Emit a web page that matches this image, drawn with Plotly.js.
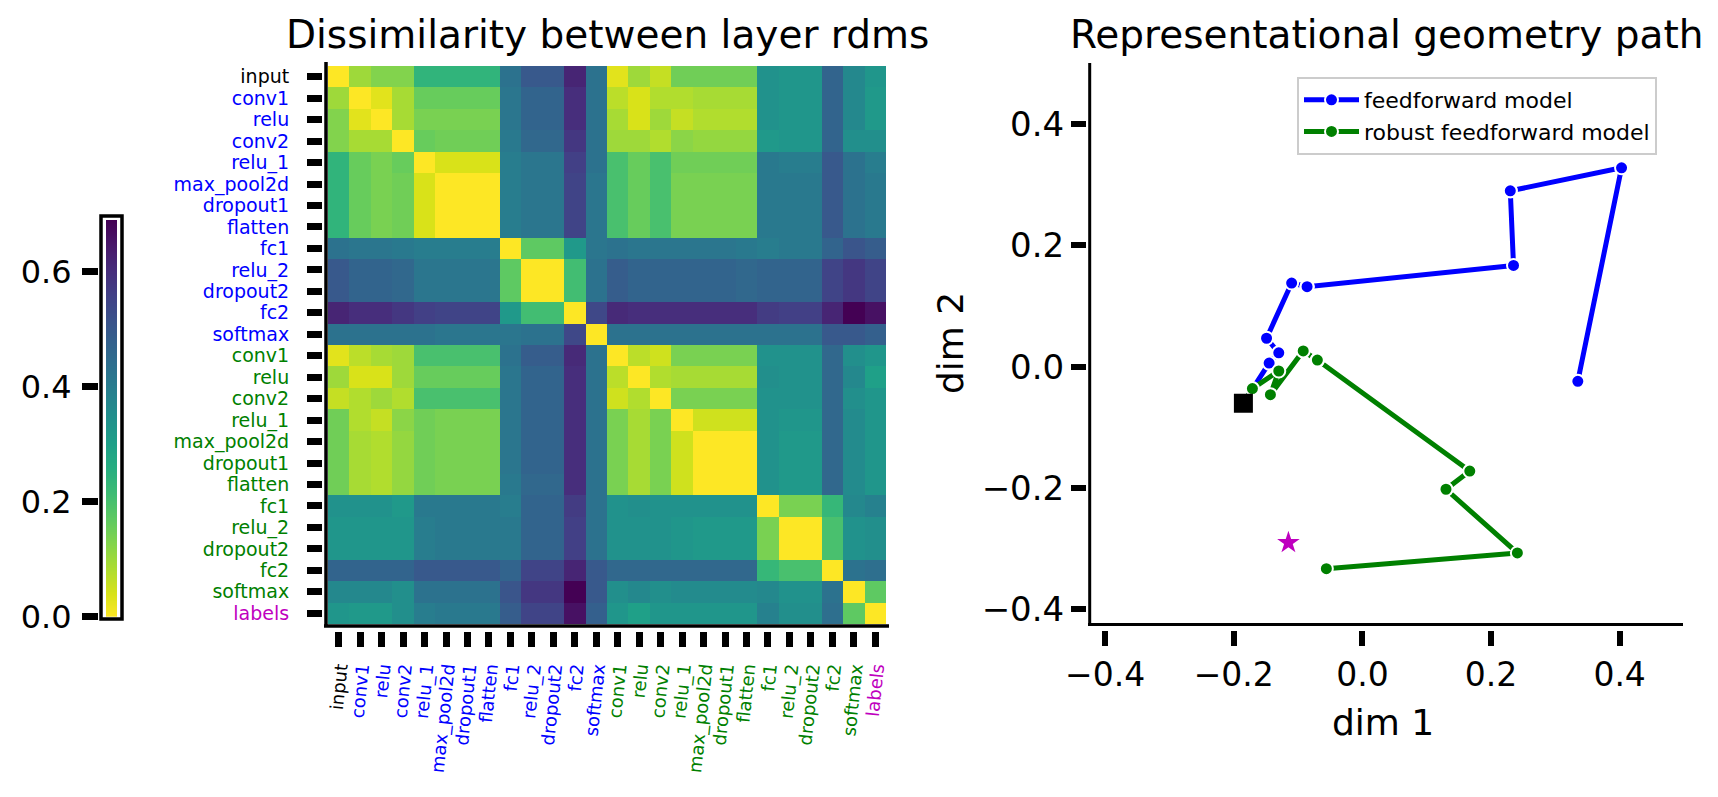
<!DOCTYPE html>
<html>
<head>
<meta charset="utf-8">
<script src="https://cdn.plot.ly/plotly-3.0.1.min.js"></script>
<style>
html,body{margin:0;padding:0;background:#ffffff;}
#chart{width:1718px;height:797px;}
</style>
</head>
<body>
<div id="chart"></div>
<script>
// ---------------- data ----------------
const rdmLabels = ['input','conv1','relu','conv2','relu_1','max_pool2d','dropout1','flatten','fc1','relu_2','dropout2','fc2','softmax',
                   'conv1','relu','conv2','relu_1','max_pool2d','dropout1','flatten','fc1','relu_2','dropout2','fc2','softmax','labels'];
const rdmGroups = ['input','ff','ff','ff','ff','ff','ff','ff','ff','ff','ff','ff','ff',
                   'robust','robust','robust','robust','robust','robust','robust','robust','robust','robust','robust','robust','labels'];

const dissim = [
 [0.00,0.10,0.13,0.13,0.24,0.24,0.24,0.24,0.43,0.50,0.50,0.62,0.43,0.03,0.10,0.06,0.15,0.15,0.15,0.15,0.34,0.33,0.33,0.47,0.37,0.33],
 [0.10,0.00,0.03,0.09,0.16,0.16,0.16,0.16,0.42,0.47,0.47,0.60,0.43,0.07,0.04,0.08,0.08,0.09,0.09,0.09,0.34,0.33,0.33,0.47,0.37,0.32],
 [0.13,0.03,0.00,0.09,0.14,0.14,0.14,0.14,0.42,0.47,0.47,0.60,0.43,0.09,0.04,0.10,0.06,0.08,0.08,0.08,0.34,0.33,0.33,0.47,0.37,0.32],
 [0.13,0.09,0.09,0.00,0.16,0.15,0.15,0.15,0.41,0.46,0.46,0.58,0.43,0.10,0.10,0.08,0.12,0.11,0.11,0.11,0.32,0.33,0.33,0.47,0.35,0.35],
 [0.24,0.16,0.14,0.16,0.00,0.04,0.04,0.04,0.40,0.42,0.42,0.56,0.43,0.20,0.16,0.20,0.15,0.15,0.15,0.15,0.41,0.40,0.40,0.50,0.43,0.40],
 [0.24,0.16,0.14,0.15,0.04,0.00,0.00,0.00,0.40,0.42,0.42,0.55,0.42,0.20,0.16,0.20,0.14,0.14,0.14,0.14,0.41,0.41,0.41,0.50,0.43,0.41],
 [0.24,0.16,0.14,0.15,0.04,0.00,0.00,0.00,0.40,0.42,0.42,0.55,0.42,0.20,0.16,0.20,0.14,0.14,0.14,0.14,0.41,0.41,0.41,0.50,0.43,0.41],
 [0.24,0.16,0.14,0.15,0.04,0.00,0.00,0.00,0.40,0.42,0.42,0.55,0.42,0.20,0.16,0.20,0.14,0.14,0.14,0.14,0.41,0.41,0.41,0.50,0.43,0.41],
 [0.43,0.42,0.42,0.41,0.40,0.40,0.40,0.40,0.00,0.17,0.17,0.32,0.42,0.43,0.42,0.42,0.42,0.42,0.42,0.41,0.40,0.41,0.41,0.47,0.51,0.49],
 [0.50,0.47,0.47,0.46,0.42,0.42,0.42,0.42,0.17,0.00,0.00,0.21,0.43,0.49,0.47,0.47,0.47,0.47,0.47,0.46,0.47,0.47,0.47,0.55,0.58,0.55],
 [0.50,0.47,0.47,0.46,0.42,0.42,0.42,0.42,0.17,0.00,0.00,0.21,0.43,0.49,0.47,0.47,0.47,0.47,0.47,0.46,0.47,0.47,0.47,0.55,0.58,0.55],
 [0.62,0.60,0.60,0.58,0.56,0.55,0.55,0.55,0.32,0.21,0.21,0.00,0.54,0.61,0.60,0.60,0.60,0.60,0.60,0.60,0.57,0.56,0.56,0.62,0.69,0.66],
 [0.43,0.43,0.43,0.43,0.43,0.42,0.42,0.42,0.42,0.43,0.43,0.54,0.00,0.43,0.43,0.43,0.43,0.43,0.43,0.43,0.43,0.43,0.43,0.50,0.50,0.48],
 [0.03,0.07,0.09,0.10,0.20,0.20,0.20,0.20,0.43,0.49,0.49,0.61,0.43,0.00,0.07,0.05,0.14,0.14,0.14,0.14,0.34,0.34,0.34,0.46,0.35,0.33],
 [0.10,0.04,0.04,0.10,0.16,0.16,0.16,0.16,0.42,0.47,0.47,0.60,0.43,0.07,0.00,0.08,0.09,0.09,0.09,0.09,0.35,0.34,0.34,0.46,0.37,0.30],
 [0.06,0.08,0.10,0.08,0.20,0.20,0.20,0.20,0.42,0.47,0.47,0.60,0.43,0.05,0.08,0.00,0.14,0.14,0.14,0.14,0.34,0.34,0.34,0.46,0.35,0.33],
 [0.15,0.08,0.06,0.12,0.15,0.14,0.14,0.14,0.42,0.47,0.47,0.60,0.43,0.14,0.09,0.14,0.00,0.05,0.05,0.05,0.34,0.33,0.33,0.46,0.36,0.33],
 [0.15,0.09,0.08,0.11,0.15,0.14,0.14,0.14,0.42,0.47,0.47,0.60,0.43,0.14,0.09,0.14,0.05,0.00,0.00,0.00,0.34,0.32,0.32,0.46,0.36,0.33],
 [0.15,0.09,0.08,0.11,0.15,0.14,0.14,0.14,0.42,0.47,0.47,0.60,0.43,0.14,0.09,0.14,0.05,0.00,0.00,0.00,0.34,0.32,0.32,0.46,0.36,0.33],
 [0.15,0.09,0.08,0.11,0.15,0.14,0.14,0.14,0.41,0.46,0.46,0.60,0.43,0.14,0.09,0.14,0.05,0.00,0.00,0.00,0.34,0.32,0.32,0.46,0.36,0.33],
 [0.34,0.34,0.34,0.32,0.41,0.41,0.41,0.41,0.40,0.47,0.47,0.57,0.43,0.34,0.35,0.34,0.34,0.34,0.34,0.34,0.00,0.14,0.14,0.23,0.37,0.39],
 [0.33,0.33,0.33,0.33,0.40,0.41,0.41,0.41,0.41,0.47,0.47,0.56,0.43,0.34,0.34,0.34,0.33,0.32,0.32,0.32,0.14,0.00,0.00,0.20,0.34,0.35],
 [0.33,0.33,0.33,0.33,0.40,0.41,0.41,0.41,0.41,0.47,0.47,0.56,0.43,0.34,0.34,0.34,0.33,0.32,0.32,0.32,0.14,0.00,0.00,0.20,0.34,0.35],
 [0.47,0.47,0.47,0.47,0.50,0.50,0.50,0.50,0.47,0.55,0.55,0.62,0.50,0.46,0.46,0.46,0.46,0.46,0.46,0.46,0.23,0.20,0.20,0.00,0.43,0.44],
 [0.37,0.37,0.37,0.35,0.43,0.43,0.43,0.43,0.51,0.58,0.58,0.69,0.50,0.35,0.37,0.35,0.36,0.36,0.36,0.36,0.37,0.34,0.34,0.43,0.00,0.17],
 [0.33,0.32,0.32,0.35,0.40,0.41,0.41,0.41,0.49,0.55,0.55,0.66,0.48,0.33,0.30,0.33,0.33,0.33,0.33,0.33,0.39,0.35,0.35,0.44,0.17,0.00]
];

// colour-scale extent and colourbar ticks
const cbarEnds = [0, 0.69];
const cbarTicks = [0, 0.2, 0.4, 0.6];
const cbarTickText = ['0.0', '0.2', '0.4', '0.6'];

// 2-D path (layer order: input, conv1, relu, conv2, relu_1, max_pool2d, dropout1, flatten, fc1, relu_2, dropout2, fc2, softmax)
const pathLayers = ['input','conv1','relu','conv2','relu_1','max_pool2d','dropout1','flatten','fc1','relu_2','dropout2','fc2','softmax'];
const ffX  = [-0.185, -0.145, -0.130, -0.149, -0.110, -0.086, -0.086, -0.086, 0.235, 0.230, 0.230, 0.403, 0.335];
const ffY  = [-0.060,  0.006,  0.023,  0.047,  0.138,  0.132,  0.132,  0.132, 0.167, 0.290, 0.290, 0.328, -0.024];
const robX = [-0.185, -0.171, -0.130, -0.143, -0.092, -0.070, -0.070, -0.070, 0.167, 0.130, 0.130, 0.241, -0.056];
const robY = [-0.060, -0.036, -0.007, -0.046,  0.026,  0.011,  0.011,  0.011, -0.172, -0.202, -0.202, -0.307, -0.333];
const labelsX = [-0.115];
const labelsY = [-0.290];

const pathTicks = [-0.4, -0.2, 0, 0.2, 0.4];
const pathTickText = ['\u22120.4', '\u22120.2', '0.0', '0.2', '0.4'];

// ---------------- styling helpers ----------------
const groupColor = {input:'#000000', ff:'#0000ff', robust:'#008000', labels:'#bf00bf'};
const FONT = 'DejaVu Sans, Liberation Sans, sans-serif';
const W = 1718, H = 797;
const fx = v => v / W;          // pixel -> paper x
const fy = v => 1 - v / H;      // pixel -> paper y

const idx = rdmLabels.map((_, i) => i);
const tickText = rdmLabels.map((l, i) => '<span style="color:' + groupColor[rdmGroups[i]] + '">' + l + '</span>');

// ---------------- traces ----------------
const data = [
  {
    type: 'heatmap', z: dissim, x: idx, y: idx,
    colorscale: 'Viridis', reversescale: true, zmin: cbarEnds[0], zmax: cbarEnds[1],
    showscale: false, xaxis: 'x', yaxis: 'y', hoverinfo: 'z'
  },
  {
    type: 'heatmap', x: [0, 1], y: cbarEnds,
    z: [[cbarEnds[0], cbarEnds[0]], [cbarEnds[1], cbarEnds[1]]],
    zsmooth: 'best', colorscale: 'Viridis', reversescale: true,
    zmin: cbarEnds[0], zmax: cbarEnds[1], showscale: false,
    xaxis: 'x3', yaxis: 'y3', hoverinfo: 'skip'
  },
  {
    type: 'scatter', mode: 'lines+markers', name: 'feedforward model',
    x: ffX, y: ffY, text: pathLayers,
    line: {color: '#0000ff', width: 5},
    marker: {size: 13, color: '#0000ff', line: {color: '#ffffff', width: 2}},
    xaxis: 'x2', yaxis: 'y2'
  },
  {
    type: 'scatter', mode: 'lines+markers', name: 'robust feedforward model',
    x: robX, y: robY, text: pathLayers,
    line: {color: '#008000', width: 5},
    marker: {size: 13, color: '#008000', line: {color: '#ffffff', width: 2}},
    xaxis: 'x2', yaxis: 'y2'
  },
  {
    type: 'scatter', mode: 'markers', name: 'input', showlegend: false,
    x: [ffX[0]], y: [ffY[0]],
    marker: {symbol: 'square', size: 19, color: '#000000'},
    xaxis: 'x2', yaxis: 'y2'
  },
  {
    type: 'scatter', mode: 'markers', name: 'labels', showlegend: false,
    x: labelsX, y: labelsY,
    marker: {symbol: 'star', size: 17, color: '#bf00bf'},
    xaxis: 'x2', yaxis: 'y2'
  }
];

const tickCommon = {
  ticks: 'outside', tickcolor: '#000000', showgrid: false, zeroline: false, showline: false
};

const layout = {
  width: W, height: H,
  margin: {l: 0, r: 0, t: 0, b: 0},
  paper_bgcolor: '#ffffff', plot_bgcolor: '#ffffff',
  font: {family: FONT, color: '#000000'},
  showlegend: true,
  legend: {
    x: fx(1297), y: fy(77), xanchor: 'left', yanchor: 'top',
    bgcolor: '#ffffff', bordercolor: '#cccccc', borderwidth: 2,
    itemwidth: 55, tracegroupgap: 0,
    font: {family: FONT, size: 22, color: '#000000'}
  },
  // heatmap axes
  xaxis: Object.assign({}, tickCommon, {
    domain: [fx(328), fx(886)], range: [-0.5, 25.5],
    anchor: 'free', position: fy(631),
    tickvals: idx, ticktext: tickText, tickangle: -84,
    ticklen: 15, tickwidth: 7, ticklabelstandoff: 4,
    tickfont: {family: FONT, size: 18}
  }),
  yaxis: Object.assign({}, tickCommon, {
    domain: [fy(624), fy(66)], range: [25.5, -0.5],
    anchor: 'free', position: fx(322),
    tickvals: idx, ticktext: tickText,
    ticklen: 15, tickwidth: 7, ticklabelstandoff: 14,
    tickfont: {family: FONT, size: 19}
  }),
  // path axes
  xaxis2: Object.assign({}, tickCommon, {
    domain: [fx(1089.7), fx(1682)], range: [-0.424, 0.497],
    anchor: 'free', position: fy(630),
    tickvals: pathTicks, ticktext: pathTickText,
    ticklen: 15, tickwidth: 6, ticklabelstandoff: 0,
    tickfont: {family: FONT, size: 33}
  }),
  yaxis2: Object.assign({}, tickCommon, {
    domain: [fy(623.3), fy(63.5)], range: [-0.423, 0.5],
    anchor: 'free', position: fx(1086),
    tickvals: pathTicks, ticktext: pathTickText,
    ticklen: 15, tickwidth: 6, ticklabelstandoff: 0,
    tickfont: {family: FONT, size: 34}
  }),
  // colourbar axes
  xaxis3: {domain: [fx(106), fx(117)], range: [0, 1], anchor: 'y3', visible: false},
  yaxis3: Object.assign({}, tickCommon, {
    domain: [fy(616.7), fy(616.7 - 0.69 * 575)], range: [cbarEnds[0], cbarEnds[1]],
    anchor: 'free', position: fx(98), side: 'left',
    tickvals: cbarTicks, ticktext: cbarTickText,
    ticklen: 16, tickwidth: 7, ticklabelstandoff: 4,
    tickfont: {family: FONT, size: 32}
  }),
  shapes: [
    // heatmap spines
    {type: 'line', xref: 'paper', yref: 'paper', x0: fx(326), x1: fx(326), y0: fy(627), y1: fy(62), line: {color: '#000000', width: 3.5}},
    {type: 'line', xref: 'paper', yref: 'paper', x0: fx(324), x1: fx(889), y0: fy(626), y1: fy(626), line: {color: '#000000', width: 3.5}},
    // path spines
    {type: 'line', xref: 'paper', yref: 'paper', x0: fx(1089.7), x1: fx(1089.7), y0: fy(625), y1: fy(63), line: {color: '#000000', width: 3}},
    {type: 'line', xref: 'paper', yref: 'paper', x0: fx(1088), x1: fx(1683), y0: fy(624.5), y1: fy(624.5), line: {color: '#000000', width: 3}},
    // colourbar outline
    {type: 'rect', xref: 'paper', yref: 'paper', x0: fx(101), x1: fx(122), y0: fy(619), y1: fy(216), line: {color: '#000000', width: 3.5}}
  ],
  annotations: [
    {text: 'Dissimilarity between layer rdms', xref: 'paper', yref: 'paper', x: fx(607), y: fy(34),
     xanchor: 'center', yanchor: 'middle', showarrow: false, font: {family: FONT, size: 39, color: '#000000'}},
    {text: 'Representational geometry path', xref: 'paper', yref: 'paper', x: fx(1386), y: fy(34),
     xanchor: 'center', yanchor: 'middle', showarrow: false, font: {family: FONT, size: 39, color: '#000000'}},
    {text: 'dim 1', xref: 'paper', yref: 'paper', x: fx(1383), y: fy(722),
     xanchor: 'center', yanchor: 'middle', showarrow: false, font: {family: FONT, size: 36, color: '#000000'}},
    {text: 'dim 2', xref: 'paper', yref: 'paper', x: fx(950), y: fy(343),
     xanchor: 'center', yanchor: 'middle', textangle: -90, showarrow: false, font: {family: FONT, size: 36, color: '#000000'}}
  ]
};

Plotly.newPlot('chart', data, layout, {displayModeBar: false, staticPlot: true});
</script>
</body>
</html>
